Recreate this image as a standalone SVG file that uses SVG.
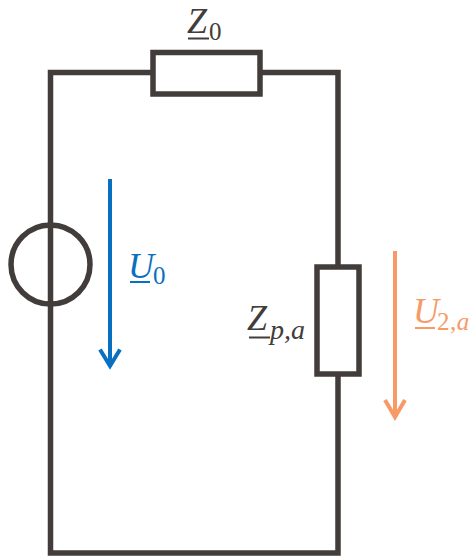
<svg xmlns="http://www.w3.org/2000/svg" width="472" height="557" viewBox="0 0 472 557">
<style>
.w{fill:none;stroke:#423d3a;stroke-width:5.5}
.b{fill:#fff;stroke:#423d3a;stroke-width:5.5}
text{font-family:"Liberation Serif",serif}
.m{font-style:italic;font-size:36px}
.s{font-size:25px;font-style:normal}
.si{font-size:28px;font-style:italic}
.dark{fill:#423d3a}
.blue{fill:#0870c0}
.or{fill:#f79a68}
</style>
<g id="connectors">
<path class="w" d="M153 72.500H50.500V553H338V374M338 267V72.500H260"/>
<path fill="none" stroke="#0870c0" stroke-width="4" d="M110 179V366M100 349.500L110 366L120 349.500"/>
<path fill="none" stroke="#f79a68" stroke-width="4" d="M395 251V417M385 400L395 417L405 400"/>
</g>
<g id="source"><circle class="w" cx="50.500" cy="264.500" r="39.500"/></g>
<g id="z0">
<rect class="b" x="153" y="52.500" width="107" height="41.500"/>
<text x="187" y="33" class="m dark">Z<tspan class="s" x="209" y="40">0</tspan></text>
<rect class="dark" x="188" y="37.500" width="21" height="2"/>
</g>
<g id="zpa">
<rect class="b" x="317" y="267" width="42" height="107"/>
<text x="247" y="330" class="m dark">Z<tspan class="si" x="270" y="339">p,a</tspan></text>
<rect class="dark" x="249" y="336.500" width="21" height="2"/>
</g>
<g id="u0">
<text x="128" y="278" class="m blue">U<tspan class="s" x="153" y="284">0</tspan></text>
<rect class="blue" x="130" y="281" width="20" height="2"/>
</g>
<g id="u2a">
<text x="413" y="323" class="m or">U<tspan class="s" x="437" y="330" letter-spacing="0.500">2,<tspan font-style="italic">a</tspan></tspan></text>
<rect class="or" x="415" y="327" width="20" height="2"/>
</g>
</svg>
